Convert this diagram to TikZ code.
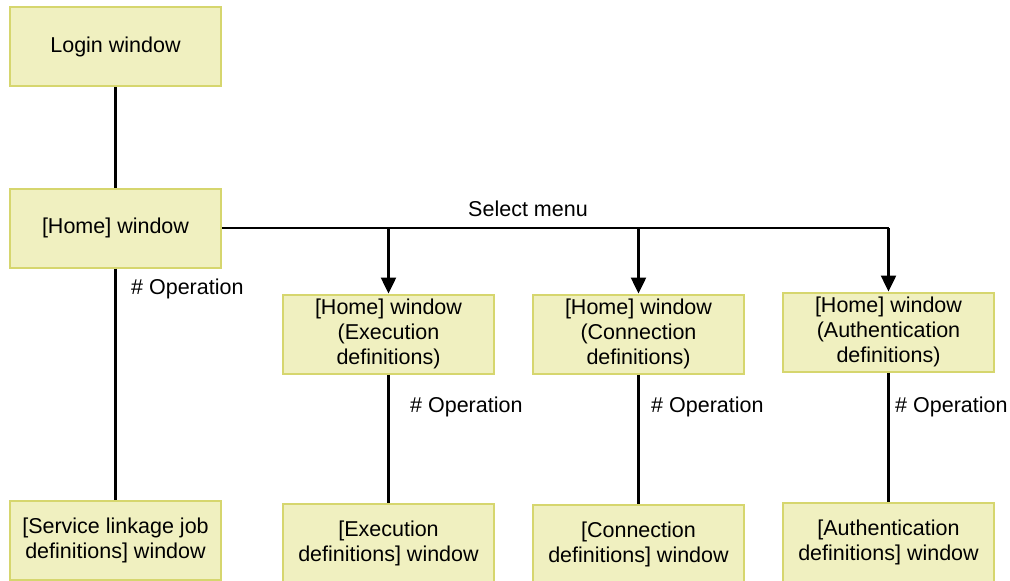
\documentclass[tikz,border=0pt]{standalone}
\usepackage{fontspec}
\setmainfont{Liberation Sans}
\usetikzlibrary{arrows.meta}
\definecolor{boxfill}{RGB}{240,240,192}
\definecolor{boxline}{RGB}{214,214,110}
\begin{document}
\begin{tikzpicture}[x=1pt,y=-1pt,
  winbox/.style={draw=boxline,fill=boxfill,line width=2pt,minimum width=211pt,
    minimum height=79pt,align=center,inner sep=0pt,
    font=\fontsize{21.5}{25}\selectfont},
  link/.style={line width=2.5pt,black},
  pick/.style={link,-{Triangle[length=16pt,width=15pt]}},
  oplabel/.style={anchor=west,inner sep=0pt,font=\fontsize{21.5}{25}\selectfont}]
\useasboundingbox (0,0) rectangle (1010,581);
% windows
\node[winbox] (login) at (115.5,46.5) {\raisebox{-4pt}{Login window}};
\node[winbox] (home) at (115.5,228) {\raisebox{-4pt}{[Home] window}};
\node[winbox] (hexec) at (388.5,334) {[Home] window\\(Execution\\definitions)};
\node[winbox] (hconn) at (638.5,334) {[Home] window\\(Connection\\definitions)};
\node[winbox] (hauth) at (888.5,332) {[Home] window\\(Authentication\\definitions)};
\node[winbox] (svc) at (115.5,540) {[Service linkage job\\definitions] window};
\node[winbox] (wexec) at (388.5,543) {[Execution\\definitions] window};
\node[winbox] (wconn) at (638.5,544) {[Connection\\definitions] window};
\node[winbox] (wauth) at (888.5,542) {[Authentication\\definitions] window};
% connectors
\draw[link] (login) -- (home);
\draw[link] (home) -- (svc);
\coordinate (c1) at (388.5,228);
\coordinate (c2) at (638.5,228);
\coordinate (c3) at (888.5,228);
\draw[link] (home.east) -- (c3);
\draw[pick] (c1) -- (hexec.north);
\draw[pick] (c2) -- (hconn.north);
\draw[pick] (c3) -- (hauth.north);
\draw[link] (hexec) -- (wexec);
\draw[link] (hconn) -- (wconn);
\draw[link] (hauth) -- (wauth);
% labels
\node[inner sep=0pt,font=\fontsize{21.5}{25}\selectfont] (sel) at (528,209) {Select menu};
\node[oplabel] (op0) at (131,289) {\# Operation};
\node[oplabel] (op1) at (410,407) {\# Operation};
\node[oplabel] (op2) at (651,407) {\# Operation};
\node[oplabel] (op3) at (895,407) {\# Operation};
\end{tikzpicture}
\end{document}
